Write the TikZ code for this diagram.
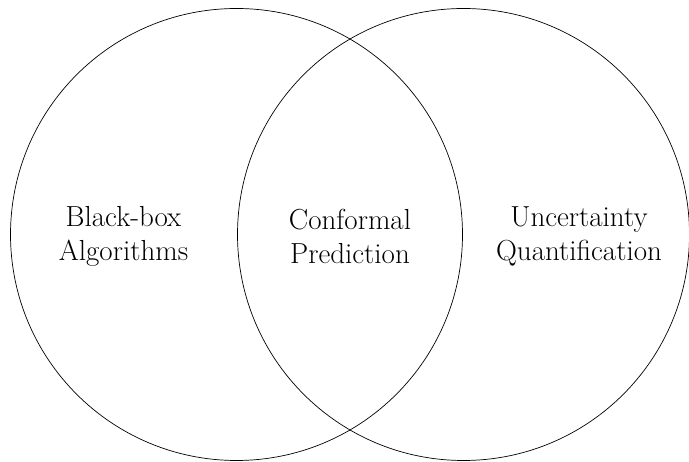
\documentclass[tikz,border=0pt]{standalone}
\usepackage{fontspec}
\setmainfont{Latin Modern Roman}
\begin{document}
\begin{tikzpicture}[x=1pt,y=1pt,
  ring/.style={draw=black,line width=0.7pt},
  lbl/.style={align=center,inner sep=0pt,font=\fontsize{29}{34}\selectfont}]
\useasboundingbox (0,0) rectangle (689,462);
\node[ring,circle,minimum size=452pt,inner sep=0pt] (L) at (236.5,227.5) {};
\node[ring,circle,minimum size=452pt,inner sep=0pt] (R) at (463.5,227.5) {};
\node[lbl] (a) at (123.5,226) {Black-box\\Algorithms};
\node[lbl] (b) at (350,226) {Conformal\\Prediction};
\node[lbl] (c) at (579,226) {Uncertainty\\Quantification};
\end{tikzpicture}
\end{document}
